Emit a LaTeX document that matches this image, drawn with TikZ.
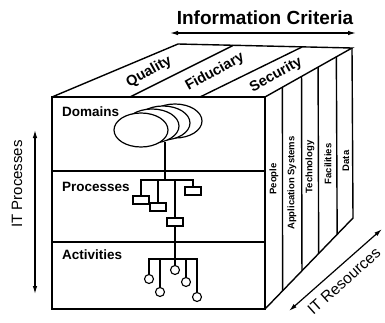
\documentclass[tikz,border=0pt]{standalone}
\usepackage{fontspec}
\setmainfont{Liberation Sans}
\usepackage{tikz}
\usetikzlibrary{calc,positioning}
\usetikzlibrary{arrows.meta,shapes.geometric}

\tikzset{
	edge/.style={line width=1.4pt},
	procbox/.style={draw, rectangle, fill=white, line width=1.1pt, minimum width=16pt, minimum height=8pt, inner sep=0pt},
	actcirc/.style={draw, circle, fill=white, line width=1.1pt, minimum size=9pt, inner sep=0pt},
	domell/.style={draw, ellipse, fill=white, line width=1.2pt, minimum width=54pt, minimum height=34pt, inner sep=0pt},
	dblarrow/.style={line width=1.2pt, {Latex[length=8pt,width=4.5pt]}-{Latex[length=8pt,width=4.5pt]}},
	lvl/.style={font=\bfseries\fontsize{13.5}{14}\selectfont, anchor=west, inner sep=0pt},
	crit/.style={font=\bfseries\fontsize{14.5}{15}\selectfont, rotate=29, inner sep=0pt},
	res/.style={font=\bfseries\fontsize{9.5}{10}\selectfont, rotate=90, inner sep=0pt},
}

\begin{document}
\begin{tikzpicture}[x=1pt,y=-1pt]
				%\draw[color=gray,step=10pt, help lines,opacity=0.3] (0,0) grid (385,322); %help grids
				\useasboundingbox (0,0) rectangle (385,322);
				\coordinate (ftl) at (52,97);
				\coordinate (ftr) at (265,97);
				\coordinate (fbl) at (52,309);
				\coordinate (fbr) at (265,309);
				\coordinate (btl) at (178,44);
				\coordinate (btr) at (352,48);
				\coordinate (bbr) at (353,218);
				% cube
				\draw[edge] (ftl) rectangle (fbr);
				\draw[edge] (ftl) -- (btl) -- (btr) -- (ftr);
				\draw[edge] (btr) -- (bbr) -- (fbr);
				\draw[edge] (52,171) -- (265,171);
				\draw[edge] (52,242) -- (265,242);
				\draw[edge] (130,97) -- (233,45.5);
				\draw[edge] (200,97) -- (302,47);
				\foreach \t in {0.2,0.42,0.61,0.82} \draw[edge] ($(ftr)!\t!(btr)$) -- ($(fbr)!\t!(bbr)$);
				% top and side labels
				\node[crit] (qual) at (149,72) {Quality};
				\node[crit] (fidu) at (215,72) {Fiduciary};
				\node[crit] (secu) at (276,75) {Security};
				\node[res] (peop) at (274,179) {People};
				\node[res] (apps) at (292,183) {Application Systems};
				\node[res] (tech) at (310,167) {Technology};
				\node[res] (faci) at (328,164) {Facilities};
				\node[res] (data) at (346,161) {Data};
				\node[lvl] (dom) at (62,112) {Domains};
				\node[lvl] (proc) at (62,187) {Processes};
				\node[lvl] (actv) at (62,255) {Activities};
				% domains
				\node[domell] (dom4) at (175,121) {};
				\node[domell] (dom3) at (163,123) {};
				\node[domell] (dom2) at (152,126) {};
				\node[domell] (dom1) at (141,130) {};
				\coordinate (dfoot) at (165,142);
				\coordinate (pbar) at (165,180);
				\draw[line width=1.1pt] (dfoot) -- (pbar);
				% processes
				\node[procbox] (p1) at (141,200) {};
				\node[procbox] (p2) at (158,207) {};
				\node[procbox] (p3) at (175,222) {};
				\node[procbox] (p4) at (193,191) {};
				\draw[line width=1.1pt] (p1.north) |- (pbar) -| (p4.north);
				\draw[line width=1.1pt] (p2.north) -- (p2.north |- pbar);
				\draw[line width=1.6pt] (p3.north) -- (p3.north |- pbar);
				% activities
				\coordinate (abar) at (175,259);
				\node[actcirc] (a1) at (149,279) {};
				\node[actcirc] (a2) at (160,292) {};
				\node[actcirc] (a3) at (175,270) {};
				\node[actcirc] (a4) at (186,282) {};
				\node[actcirc] (a5) at (197,297) {};
				\draw[line width=1.1pt] (a1.north) |- (abar) -| (a5.north);
				\draw[line width=1.1pt] (a2.north) -- (a2.north |- abar);
				\draw[line width=1.1pt] (a4.north) -- (a4.north |- abar);
				\draw[line width=1.6pt] (p3.south) -- (a3.north);
				% axes
				\coordinate (icl) at (170,33);
				\coordinate (icr) at (356,33);
				\draw[dblarrow] (icl) -- (icr);
				\node[font=\bfseries\fontsize{19}{20}\selectfont] (ic) at (265,18) {Information Criteria};
				\coordinate (ipt) at (35,130);
				\coordinate (ipb) at (35,294);
				\draw[dblarrow] (ipt) -- (ipb);
				\node[rotate=90, font=\fontsize{15}{16}\selectfont] (ip) at (17,184) {IT Processes};
				\coordinate (irl) at (289,311);
				\coordinate (iru) at (382,229);
				\draw[dblarrow] (irl) -- (iru);
				\node[rotate=42, font=\fontsize{15.5}{16}\selectfont] (ir) at (344,281) {IT Resources};
\end{tikzpicture}
\end{document}
